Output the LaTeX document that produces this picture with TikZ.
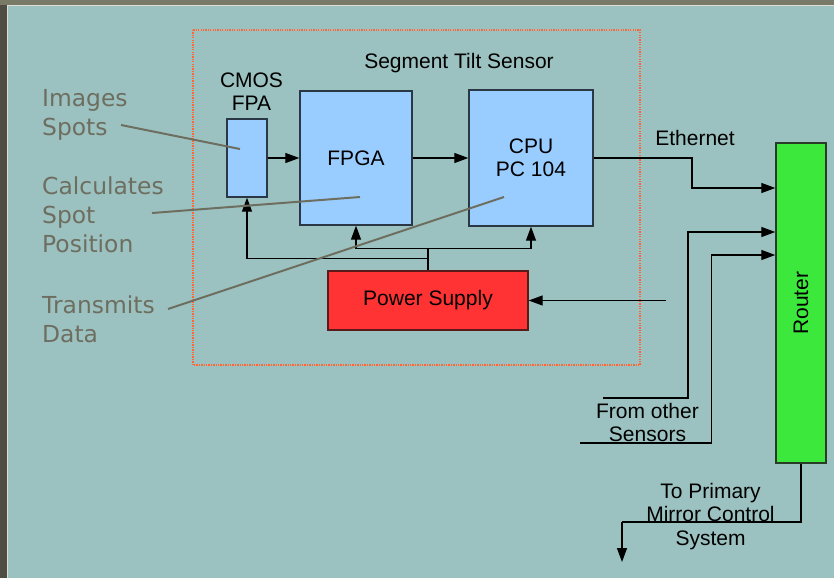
\documentclass[tikz,border=0pt]{standalone}
\usepackage{fontspec}
\setmainfont{Liberation Sans}
\newfontfamily\greyfont{DejaVu Sans}
\usetikzlibrary{arrows.meta}
\definecolor{teal0}{RGB}{155,194,192}
\definecolor{frameL}{RGB}{78,78,68}
\definecolor{frameT}{RGB}{122,122,104}
\definecolor{frameLine}{RGB}{222,222,214}
\definecolor{boxblue}{RGB}{153,204,255}
\definecolor{boxblueline}{RGB}{42,56,70}
\definecolor{psred}{RGB}{255,51,51}
\definecolor{psline}{RGB}{90,26,26}
\definecolor{rtgreen}{RGB}{61,232,61}
\definecolor{rtline}{RGB}{40,60,40}
\definecolor{dotorange}{RGB}{255,102,51}
\definecolor{greytxt}{RGB}{110,110,96}
\tikzset{
  blabel/.style={font=\fontsize{21}{23.5}\selectfont, inner sep=0pt, align=center, text=black},
  glabel/.style={font=\greyfont\fontsize{23.4}{29}\selectfont, inner sep=0pt, align=left, text=greytxt},
  bluebox/.style={draw=boxblueline, fill=boxblue, line width=1.4pt, inner sep=0pt},
  conn/.style={draw=black, line width=1.3pt},
  arr/.style={conn, -{Triangle[length=14pt,width=10pt]}},
  leader/.style={draw=greytxt, line width=2pt},
}
\begin{document}
\begin{tikzpicture}[x=1pt,y=-1pt]
\useasboundingbox (0,0) rectangle (834,578);
% background frame
\fill[frameL] (0,0) rectangle (834,578);
\fill[frameT] (0,0) rectangle (834,5);
\fill[frameLine] (7,5) rectangle (834,578);
\fill[teal0] (8,6) rectangle (834,578);

% dotted sensor enclosure
\draw[dotorange, line width=1.3pt, dash pattern=on 1.3pt off 1.1pt] (193,30) rectangle (640,365);
\node[blabel, anchor=base] (title) at (459,68.3) {Segment Tilt Sensor};

% boxes
\node[bluebox, minimum width=40pt, minimum height=78pt] (cmos) at (247,158) {};
\node[blabel] (cmoslabel) at (251.5,91.7) {CMOS\\FPA};
\node[bluebox, minimum width=112pt, minimum height=134pt, blabel, draw=boxblueline, fill=boxblue, line width=1.4pt] (fpga) at (356,158) {FPGA};
\node[bluebox, minimum width=124pt, minimum height=136pt, blabel, draw=boxblueline, fill=boxblue, line width=1.4pt] (cpu) at (531,158) {CPU\\PC 104};
\node[draw=psline, fill=psred, line width=1.4pt, minimum width=200pt, minimum height=59pt, blabel] (ps) at (428,300.5) {Power Supply};
\node[draw=rtline, fill=rtgreen, line width=1.4pt, minimum width=50pt, minimum height=320pt, inner sep=0pt] (router) at (801,303) {};
\node[blabel, rotate=90] (routerlabel) at (router.center) {Router};

% labels
\node[blabel, anchor=base] (eth) at (695,145.7) {Ethernet};
\node[blabel] (from) at (647.5,422.5) {From other\\Sensors};
\node[blabel] (to) at (710.5,516.4) {To Primary\\Mirror Control\\System};

% connectors
\draw[arr] (cmos.east) -- (fpga.west);
\draw[arr] (fpga.east) -- (cpu.west);
\draw[arr] (cpu.east) -| (692,188) -- (router.west |- 0,188);
\coordinate (s1) at (603,398);
\coordinate (s2) at (580,443);
\draw[arr] (s1) -| (688,232) -- (router.west |- 0,232);
\draw[arr] (s2) -| (711.5,255) -- (router.west |- 0,255);
\coordinate (pin) at (666,300.5);
\draw[arr] (pin) -- (ps.east);
\coordinate (out) at (622,562);
\draw[conn] (router.south) |- (622,522);
\draw[arr] (622,522) -- (out);
\coordinate (j1) at (428,248.3);
\coordinate (j2) at (428,258.3);
\draw[conn] (ps.north) -- (j1);
\draw[arr] (j1) -| (fpga.south);
\draw[arr] (j1) -| (cpu.south);
\draw[arr] (j2) -| (cmos.south);

% grey descriptions
\node[glabel, anchor=base west] (l1) at (42,135) {Images\\Spots};
\node[glabel, anchor=base west] (l2) at (42,252) {Calculates\\Spot\\Position};
\node[glabel, anchor=base west] (l3) at (42,342) {Transmits\\Data};
\coordinate (e1a) at (121,125);
\coordinate (e1b) at (240,149);
\coordinate (e2a) at (152,213);
\coordinate (e2b) at (360,197);
\coordinate (e3a) at (168,309);
\coordinate (e3b) at (504,197);
\draw[leader] (e1a) -- (e1b);
\draw[leader] (e2a) -- (e2b);
\draw[leader] (e3a) -- (e3b);
\end{tikzpicture}
\end{document}
